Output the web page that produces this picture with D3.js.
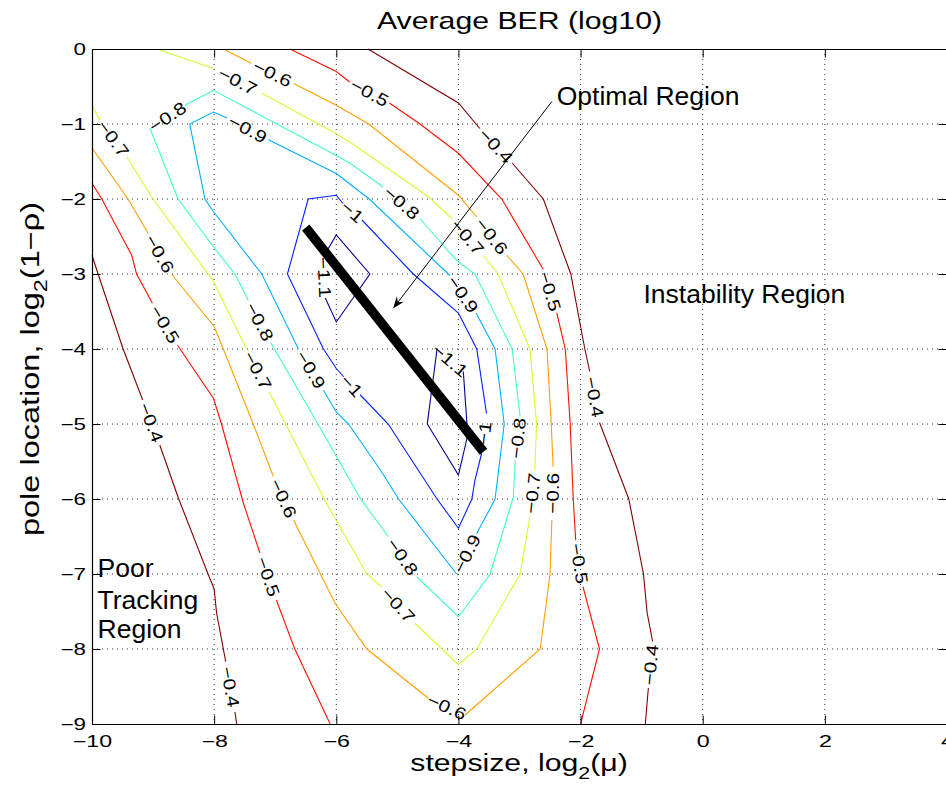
<!DOCTYPE html>
<html>
<head>
<meta charset="utf-8">
<script src="https://d3js.org/d3.v7.min.js"></script>
<style>
  body { margin: 0; background: #fff; }
  text { font-family: "Liberation Sans", Arial, Helvetica, sans-serif; fill: #000; }
</style>
</head>
<body>
<div id="chart"></div>
<script>
// axis ticks
var xTicks = [-10, -8, -6, -4, -2, 0, 2, 4];
var yTicks = [0, -1, -2, -3, -4, -5, -6, -7, -8, -9];

// contour levels and jet colours
var levels = [-1.1, -1, -0.9, -0.8, -0.7, -0.6, -0.5, -0.4];
var levelColors = ["#00008f", "#0020ff", "#00afff", "#40ffbf", "#cfff30", "#ff9f00", "#ff1000", "#800000"];

// contour lines: each one is a list of pieces,
// a label sits in every gap between two pieces
var ber04a = [
  [[-5.48, 0], [-4.0, -0.72], [-3.65, -1.06]],
  [[-3.12, -1.52], [-2.61, -2.0], [-2.16, -3.0], [-2.0, -3.7], [-1.93, -4.0], [-1.85, -4.3]],
  [[-1.69, -4.98], [-1.21, -6.0], [-0.97, -7.0], [-0.91, -7.52], [-0.82, -7.9]],
  [[-0.89, -8.52], [-0.94, -9]]
];
var ber04b = [
  [[-10, -2.75], [-9.9, -3.0], [-9.49, -4.0], [-9.17, -4.68]],
  [[-8.89, -5.28], [-8.58, -6.0], [-8.1, -7.0], [-8.0, -7.2], [-7.96, -7.52], [-7.81, -8.17]],
  [[-7.66, -8.84], [-7.63, -9]]
];
var ber05a = [
  [[-6.76, 0], [-6.0, -0.3], [-5.78, -0.44]],
  [[-5.13, -0.72], [-4.63, -1.0], [-4.0, -1.39], [-3.29, -2.0], [-2.61, -2.94]],
  [[-2.39, -3.52], [-2.25, -4.0], [-2.17, -5.0], [-2.12, -6.0], [-2.08, -6.55]],
  [[-1.96, -7.17], [-1.69, -8.0], [-2.0, -9]]
];
var ber05b = [
  [[-10, -1.79], [-9.84, -2.0], [-9.35, -2.75], [-9.27, -3.0], [-9.01, -3.39]],
  [[-8.6, -3.95], [-8.01, -4.66], [-7.88, -5.0], [-7.52, -6.06], [-7.25, -6.72]],
  [[-6.98, -7.35], [-6.68, -8.0], [-6.1, -9]]
];
var ber06 = [
  [[-7.85, 0], [-7.39, -0.19]],
  [[-6.7, -0.46], [-6.0, -0.75], [-5.47, -1.0], [-4.0, -1.95], [-3.7, -2.24]],
  [[-3.21, -2.75], [-2.94, -3.0], [-2.55, -4.0], [-2.48, -5.0], [-2.45, -5.57]],
  [[-2.47, -6.28], [-2.5, -7.0], [-2.66, -8.0], [-3.89, -8.88]],
  [[-4.49, -8.66], [-5.5, -8.0], [-6.02, -7.39], [-6.7, -6.28]],
  [[-7.03, -5.7], [-7.36, -5.0], [-7.85, -4.0], [-8.0, -3.7], [-8.7, -3.0]],
  [[-9.08, -2.46], [-9.41, -2.0], [-10, -1.32]]
];
var ber07 = [
  [[-8.94, 0], [-8.01, -0.26]],
  [[-7.22, -0.59], [-6.0, -1.13], [-5.78, -1.24], [-4.49, -1.97], [-4.11, -2.26]],
  [[-3.59, -2.75], [-3.35, -3.0], [-2.83, -4.0], [-2.72, -5.0], [-2.75, -5.61]],
  [[-2.83, -6.24], [-2.99, -7.0], [-3.7, -8.0], [-4.0, -8.21], [-4.71, -7.66]],
  [[-5.26, -7.17], [-5.5, -7.0], [-6.2, -6.0], [-6.83, -5.0], [-7.1, -4.57]],
  [[-7.47, -4.0], [-8.01, -3.1], [-9.0, -2.0], [-9.43, -1.44]],
  [[-9.87, -0.95], [-10, -0.75]]
];
var ber08 = [
  [[-9.05, -1.06], [-8.59, -2.0], [-8.01, -2.64], [-7.66, -3.0], [-7.44, -3.35]],
  [[-7.07, -3.92], [-6.3, -5.0], [-6.0, -5.43], [-5.6, -6.0], [-5.15, -6.5]],
  [[-4.68, -7.04], [-4.0, -7.57], [-3.48, -7.0], [-3.1, -5.97], [-3.07, -5.48]],
  [[-2.99, -4.9], [-3.12, -4.0], [-3.73, -3.0], [-4.0, -2.84], [-4.14, -2.72], [-4.63, -2.26]],
  [[-5.23, -1.84], [-5.78, -1.52], [-6.0, -1.42], [-8.01, -0.55], [-8.48, -0.75]]
];
var ber09 = [
  [[-7.11, -1.21], [-6.0, -1.66], [-5.46, -2.0], [-4.14, -3.02]],
  [[-3.71, -3.52], [-3.4, -4.0], [-3.25, -5.0], [-3.4, -6.0], [-3.7, -6.46]],
  [[-4.03, -7.0], [-4.98, -6.0], [-5.28, -5.61], [-5.8, -5.0], [-6.0, -4.84], [-6.21, -4.55]],
  [[-6.62, -4.0], [-7.22, -3.0], [-8.01, -2.17], [-8.15, -2.0], [-8.4, -1.0], [-8.01, -0.84], [-7.79, -0.92]]
];
var ber10 = [
  [[-5.58, -2.28], [-4.74, -3.0], [-4.0, -3.52], [-3.7, -4.0], [-3.54, -4.86]],
  [[-3.62, -5.39], [-3.73, -5.75], [-3.78, -6.0], [-4.0, -6.39], [-4.35, -6.0], [-5.15, -5.0], [-5.61, -4.61]],
  [[-5.88, -4.37], [-6.0, -4.26], [-6.21, -4.0], [-6.8, -3.0], [-6.46, -2.0], [-6.0, -1.95], [-5.89, -2.06]]
];
var ber11a = [
  [[-6.21, -2.77], [-6.0, -2.48], [-5.45, -3.0], [-6.0, -3.64], [-6.18, -3.32]]
];
var ber11b = [
  [[-4.35, -4.0], [-4.51, -5.0], [-4.0, -5.68], [-3.86, -5.19], [-3.86, -5.0], [-3.92, -4.3]]
];

// optimal line and the arrow pointing at it
var optimalLine = [[-6.5, -2.38], [-3.59, -5.37]];
var arrowLine = [[-2.47, -0.70], [-5.07, -3.46]];

var contours = [
  {level: -0.4, pieces: ber04a, closed: false},
  {level: -0.4, pieces: ber04b, closed: false},
  {level: -0.5, pieces: ber05a, closed: false},
  {level: -0.5, pieces: ber05b, closed: false},
  {level: -0.6, pieces: ber06, closed: false},
  {level: -0.7, pieces: ber07, closed: false},
  {level: -0.8, pieces: ber08, closed: true},
  {level: -0.9, pieces: ber09, closed: true},
  {level: -1, pieces: ber10, closed: true},
  {level: -1.1, pieces: ber11a, closed: true},
  {level: -1.1, pieces: ber11b, closed: true}
];

var W = 946, H = 785;
var svg = d3.select("#chart").append("svg")
  .attr("width", W).attr("height", H);

var x = d3.scaleLinear().domain([-10, 4]).range([92, 947]);
var y = d3.scaleLinear().domain([-9, 0]).range([724, 49]);
var color = d3.scaleOrdinal().domain(levels).range(levelColors);
var fmt = d3.format("");

// dotted grid
var grid = svg.append("g");
grid.selectAll("line.gx").data(xTicks.slice(1, -1)).join("line")
  .attr("x1", d => x(d)).attr("x2", d => x(d))
  .attr("y1", y(0)).attr("y2", y(-9));
grid.selectAll("line.gy").data(yTicks.slice(1, -1)).join("line")
  .attr("x1", x(-10)).attr("x2", x(4))
  .attr("y1", d => y(d)).attr("y2", d => y(d));
grid.selectAll("line")
  .attr("stroke", "#333").attr("stroke-width", 1)
  .attr("stroke-dasharray", "1,4");

// contours
var line = d3.line().x(d => x(d[0])).y(d => y(d[1]));
contours.forEach(function(c) {
  var g = svg.append("g");
  g.selectAll("path").data(c.pieces).join("path")
    .attr("d", line)
    .attr("fill", "none")
    .attr("stroke", color(c.level))
    .attr("stroke-width", 1.1);

  var gaps = [];
  for (var i = 0; i < c.pieces.length - 1; i++)
    gaps.push([c.pieces[i][c.pieces[i].length - 1], c.pieces[i + 1][0]]);
  if (c.closed) {
    var last = c.pieces[c.pieces.length - 1];
    gaps.push([last[last.length - 1], c.pieces[0][0]]);
  }
  gaps.forEach(function(gp) {
    var x1 = x(gp[0][0]), y1 = y(gp[0][1]), x2 = x(gp[1][0]), y2 = y(gp[1][1]);
    var a = Math.atan2(y2 - y1, x2 - x1) * 180 / Math.PI;
    if (a > 90) a -= 180;
    if (a <= -90) a += 180;
    g.append("text")
      .attr("transform", "translate(" + ((x1 + x2) / 2) + "," + ((y1 + y2) / 2) + ") rotate(" + a + ") scale(1.22,1)")
      .attr("text-anchor", "middle")
      .attr("dy", "0.36em")
      .style("font-size", "17px")
      .text(fmt(c.level));
  });
});

// thick optimal line
svg.append("path")
  .datum(optimalLine)
  .attr("d", line)
  .attr("stroke", "#000").attr("stroke-width", 9.5).attr("fill", "none");

// arrow
var ax1 = x(arrowLine[0][0]), ay1 = y(arrowLine[0][1]);
var ax2 = x(arrowLine[1][0]), ay2 = y(arrowLine[1][1]);
var ang = Math.atan2(ay2 - ay1, ax2 - ax1);
svg.append("line")
  .attr("x1", ax1).attr("y1", ay1)
  .attr("x2", ax2 - 6 * Math.cos(ang)).attr("y2", ay2 - 6 * Math.sin(ang))
  .attr("stroke", "#000").attr("stroke-width", 1);
var hl = 12, hw = 4.5;
function pt(l, w) {
  return [ax2 - l * Math.cos(ang) - w * Math.sin(ang), ay2 - l * Math.sin(ang) + w * Math.cos(ang)];
}
svg.append("path")
  .attr("d", "M" + [ax2, ay2] + "L" + pt(hl, hw) + "L" + pt(hl - 4, 0) + "L" + pt(hl, -hw) + "Z")
  .attr("fill", "#000");

// axes, ticks pointing inwards
var tk = 8.5;
var xAxis = svg.append("g").attr("transform", "translate(0," + y(-9) + ")")
  .call(d3.axisBottom(x).tickValues(xTicks).tickSize(-tk).tickSizeOuter(0).tickPadding(12).tickFormat(fmt));
svg.append("g").attr("transform", "translate(0," + y(0) + ")")
  .call(d3.axisTop(x).tickValues(xTicks).tickSize(-tk).tickSizeOuter(0).tickFormat(""));
var yAxis = svg.append("g").attr("transform", "translate(" + x(-10) + ",0)")
  .call(d3.axisLeft(y).tickValues(yTicks).tickSize(-tk).tickSizeOuter(0).tickPadding(6).tickFormat(fmt));
svg.append("g").attr("transform", "translate(" + x(4) + ",0)")
  .call(d3.axisRight(y).tickValues(yTicks).tickSize(-tk).tickSizeOuter(0).tickFormat(""));
svg.selectAll(".domain").attr("stroke", "#000").attr("stroke-width", 1.2);
svg.selectAll(".tick line").attr("stroke", "#000");
svg.selectAll(".tick text").style("font-size", "16px").attr("fill", "#000")
  .style("font-family", "'Liberation Sans', Arial, sans-serif");
xAxis.selectAll(".tick text").attr("transform", "scale(1.45,1)");
yAxis.selectAll(".tick text").attr("x", 0)
  .attr("transform", "translate(-6,0) scale(1.4,1)");

// title and axis labels
svg.append("text")
  .attr("transform", "translate(" + ((x(-10) + x(4)) / 2) + ",29) scale(1.26,1)")
  .attr("text-anchor", "middle")
  .style("font-size", "24px")
  .text("Average BER (log10)");

var xl = svg.append("text")
  .attr("transform", "translate(519,771) scale(1.26,1)")
  .attr("text-anchor", "middle")
  .style("font-size", "24px");
xl.append("tspan").text("stepsize, log");
xl.append("tspan").attr("dy", 8).style("font-size", "17px").text("2");
xl.append("tspan").attr("dy", -8).text("(\u03bc)");

var yl = svg.append("text")
  .attr("transform", "translate(39,369) rotate(-90) scale(1.3,1)")
  .attr("text-anchor", "middle")
  .style("font-size", "25px");
yl.append("tspan").text("pole location, log");
yl.append("tspan").attr("dy", 8).style("font-size", "18px").text("2");
yl.append("tspan").attr("dy", -8).text("(1\u2212\u03c1)");

// region annotations
var notes = [
  {t: "Optimal Region", x: -2.39, y: -0.747},
  {t: "Instability Region", x: -0.97, y: -3.39},
  {t: "Poor", x: -9.91, y: -7.04},
  {t: "Tracking", x: -9.91, y: -7.46},
  {t: "Region", x: -9.91, y: -7.85}
];
svg.selectAll("text.note").data(notes).join("text")
  .attr("class", "note")
  .attr("transform", d => "translate(" + x(d.x) + "," + y(d.y) + ") scale(1.02,1)")
  .style("font-size", "26px")
  .text(d => d.t);
</script>
</body>
</html>
